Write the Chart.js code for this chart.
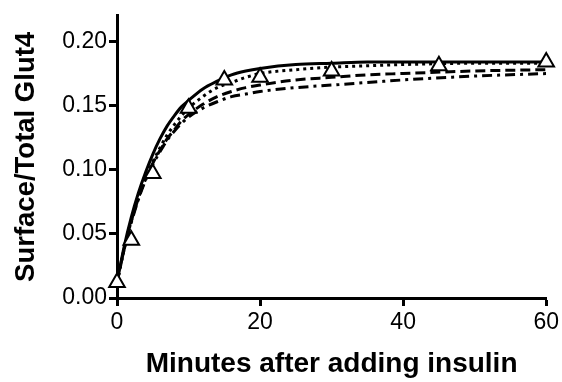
<!DOCTYPE html>
<html>
<head>
<meta charset="utf-8">
<script src="https://cdn.jsdelivr.net/npm/chart.js@4.4.0/dist/chart.umd.min.js"></script>
<style>
body{margin:0;background:#fff;}
#wrap{width:562px;height:382px;}
</style>
</head>
<body>
<div id="wrap"><canvas id="chart"></canvas></div>
<script>
// fitted curves
const fitTimes   = [0,1,2,3,4,5,6,7,8,9,10,12,14,16,18,20,25,30,35,40,50,60];
const solidFit   = [0.012,0.040,0.063,0.082,0.098,0.112,0.124,0.134,0.142,0.149,0.154,0.163,0.169,0.174,0.177,0.179,0.182,0.183,0.184,0.184,0.184,0.184];
const dottedFit  = [0.012,0.038,0.060,0.078,0.093,0.106,0.117,0.127,0.135,0.142,0.148,0.157,0.164,0.168,0.172,0.175,0.178,0.180,0.181,0.182,0.183,0.183];
const dashedFit  = [0.012,0.038,0.060,0.078,0.093,0.105,0.115,0.124,0.131,0.138,0.143,0.151,0.157,0.161,0.164,0.166,0.170,0.172,0.174,0.175,0.177,0.178];
const dashDotFit = [0.012,0.038,0.059,0.077,0.092,0.104,0.114,0.123,0.130,0.136,0.141,0.148,0.153,0.157,0.159,0.161,0.164,0.166,0.168,0.170,0.173,0.175];

// measured points (triangles)
const obsTimes  = [0,2,5,10,15,20,30,45,60];
const obsValues = [0.012,0.045,0.097,0.148,0.170,0.172,0.177,0.181,0.184];

const xTicks = [0,20,40,60];
const yTicks = [0,0.05,0.10,0.15,0.20];

const FONT = "'Liberation Sans', Arial, Helvetica, sans-serif";

function pts(xs, ys){ return xs.map((x,i)=>({x:x, y:ys[i]})); }

function curve(vals, dash){
    return {
        data: pts(fitTimes, vals), showLine:true, borderColor:'#000', borderWidth:3,
        borderDash:dash, pointRadius:0, cubicInterpolationMode:'monotone', fill:false, order:1
    };
}

const ctx = document.getElementById('chart').getContext('2d');
new Chart(ctx, {
    type:'scatter',
    data:{ datasets:[
        curve(solidFit, []),
        curve(dottedFit, [3,4]),
        curve(dashedFit, [10,5]),
        curve(dashDotFit, [10,5,3,5]),
        { data: pts(obsTimes, obsValues), pointStyle:'triangle', pointRadius:9,
          pointBackgroundColor:'#fff', pointBorderColor:'#000', pointBorderWidth:2,
          showLine:false, clip:false, order:0 }
    ]},
    options:{
        responsive:true, maintainAspectRatio:false, animation:false,
        layout:{ padding:{top:13, right:15, left:0, bottom:0} },
        plugins:{ legend:{display:false}, tooltip:{enabled:false} },
        scales:{
            x:{
                type:'linear', min:0, max:60,
                afterFit: s => { s.height = 84; },
                afterBuildTicks: s => { s.ticks = xTicks.map(v=>({value:v})); },
                border:{display:true, color:'#000', width:3},
                grid:{drawOnChartArea:false, drawTicks:true, tickLength:8, tickWidth:3, tickColor:'#000'},
                ticks:{color:'#000', font:{family:FONT, size:23}, padding:3, maxRotation:0},
                title:{display:true, text:'Minutes after adding insulin', color:'#000',
                       font:{family:FONT, size:28, weight:'bold'}, padding:{top:0, bottom:1}}
            },
            y:{
                min:0, max:0.22,
                afterFit: s => { s.width = 117; },
                afterBuildTicks: s => { s.ticks = yTicks.map(v=>({value:v})); },
                border:{display:true, color:'#000', width:3},
                grid:{drawOnChartArea:false, drawTicks:true, tickLength:8, tickWidth:3, tickColor:'#000'},
                ticks:{color:'#000', font:{family:FONT, size:23}, padding:2, callback: v => v.toFixed(2)},
                title:{display:true, text:'Surface/Total Glut4', color:'#000',
                       font:{family:FONT, size:27.5, weight:'bold'}, padding:{top:10, bottom:0}}
            }
        }
    }
});
</script>
</body>
</html>
